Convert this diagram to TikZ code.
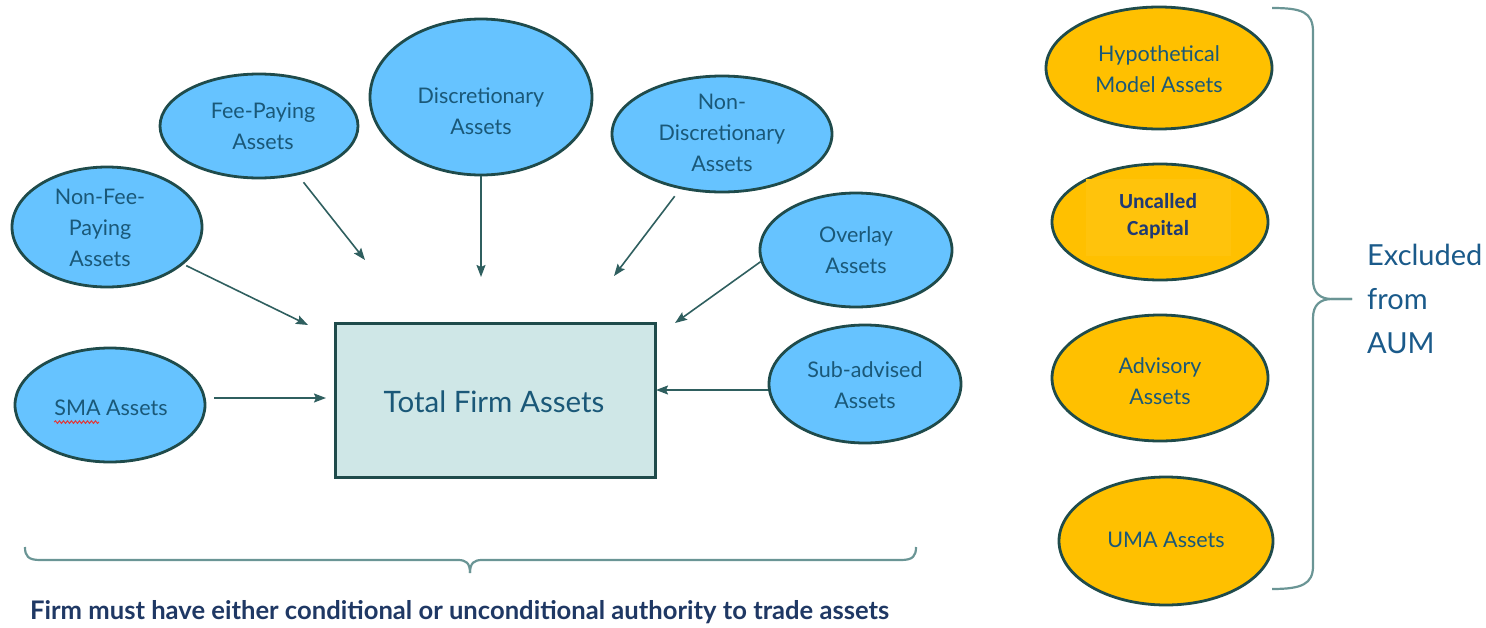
\documentclass[tikz,border=0pt]{standalone}
\usepackage{fontspec}
\setmainfont{Lato}
\newfontfamily\calb{Carlito}
\usetikzlibrary{arrows.meta,decorations.pathmorphing,calc,shapes.geometric}
\definecolor{bluefill}{HTML}{66C3FF}
\definecolor{orfill}{HTML}{FFC000}
\definecolor{orfill2}{HTML}{FFC30C}
\definecolor{boxfill}{HTML}{CFE7E7}
\definecolor{edgecol}{HTML}{1F4B4B}
\definecolor{arrcol}{HTML}{2F5F5F}
\definecolor{lblcol}{HTML}{1A5878}
\definecolor{exccol}{HTML}{1A5A8A}
\definecolor{navy}{HTML}{1F3A74}
\definecolor{botcol}{HTML}{1F3864}
\definecolor{bracecol}{HTML}{6A9595}
\definecolor{squig}{HTML}{E03A3A}
\tikzset{
  bell/.style={ellipse, draw=edgecol, line width=2.8pt, fill=bluefill, inner sep=0pt},
  oell/.style={ellipse, draw=edgecol, line width=2.8pt, fill=orfill, inner sep=0pt},
  lbl/.style={text=lblcol, align=center, inner sep=0pt, font=\fontsize{21.5}{31}\selectfont},
  conn/.style={draw=arrcol, line width=1.6pt, -{Stealth[length=12pt,width=9pt,inset=2pt]}},
  bracestyle/.style={draw=bracecol, line width=2.2pt, line join=round},
}
\begin{document}
\begin{tikzpicture}[x=1pt,y=-1pt]
\useasboundingbox (0,0) rectangle (1486,627);
% blue ellipses
\node[bell, minimum width=198pt, minimum height=104pt] (fee) at (259,126) {};
\node[bell, minimum width=222pt, minimum height=156pt] (disc) at (481,97) {};
\node[bell, minimum width=220pt, minimum height=116pt] (ndisc) at (722,134) {};
\node[bell, minimum width=190pt, minimum height=120pt] (nfee) at (107,227) {};
\node[bell, minimum width=192pt, minimum height=114pt] (ovl) at (856,250) {};
\node[bell, minimum width=190pt, minimum height=114pt] (sma) at (110,405) {};
\node[bell, minimum width=192pt, minimum height=118pt] (sub) at (865,384) {};
% box
\node[draw=edgecol, line width=3pt, fill=boxfill, minimum width=320pt, minimum height=154pt, inner sep=0pt] (tfa) at (495,400) {};
\node[text=lblcol, inner sep=0pt, font=\fontsize{29.5}{34}\selectfont] (tfat) at (494,402) {Total Firm Assets};
% labels
\node[lbl] (feet) at (263,126) {Fee-Paying\\Assets};
\node[lbl] (disct) at (481,111) {Discretionary\\Assets};
\node[lbl] (ndisct) at (722,133) {Non-\\Discretionary\\Assets};
\node[lbl] (nfeet) at (100,228) {Non-Fee-\\Paying\\Assets};
\node[lbl] (ovlt) at (856,250) {Overlay\\Assets};
\node[lbl] (smat) at (111,408) {SMA Assets};
\node[lbl] (subt) at (865,385) {Sub-advised\\Assets};
\draw[squig, line width=1pt, decorate, decoration={snake, amplitude=1.3pt, segment length=4pt}] ($(smat.south west)+(0,6)$) -- ++(45,0);
% connectors
\coordinate (tA) at (308,325);
\coordinate (tB) at (365,260);
\coordinate (tC) at (481,277);
\coordinate (tD) at (614,276);
\coordinate (tE) at (675,323);
\coordinate (tF) at (326,398);
\coordinate (tG) at (656,390);
\draw[conn, shorten <=3pt] (nfee) -- (tA);
\draw[conn, shorten <=9pt] (fee) -- (tB);
\draw[conn] (disc) -- (tC);
\draw[conn, shorten <=9pt] (ndisc) -- (tD);
\draw[conn] (ovl.187) -- (tE);
\draw[conn, shorten <=8pt] (sma.east |- tF) -- (tF);
\draw[conn] (sub.west |- tG) -- (tG);
% orange ellipses
\node[oell, minimum width=226pt, minimum height=122pt] (hyp) at (1159,68) {};
\node[oell, minimum width=216pt, minimum height=116pt] (unc) at (1160,222) {};
\fill[orfill2] (1086,179) rectangle (1231,256);
\node[oell, minimum width=216pt, minimum height=126pt] (adv) at (1160,378) {};
\node[oell, minimum width=214pt, minimum height=128pt] (uma) at (1166,541) {};
\node[lbl] (hypt) at (1159,69) {Hypothetical\\Model Assets};
\node[text=navy, align=center, inner sep=0pt, font=\calb\bfseries\fontsize{21.5}{27}\selectfont] (unct) at (1158,216) {Uncalled\\Capital};
\node[lbl] (advt) at (1160,381) {Advisory\\Assets};
\node[lbl] (umat) at (1166,540) {UMA Assets};
% right brace
\coordinate (rb1) at (1272,8);
\coordinate (rbt) at (1352,299);
\coordinate (rb2) at (1272,589);
\draw[bracestyle] (rb1) .. controls (1302,8) and (1313,12) .. (1313,32) -- (1313,280)
  .. controls (1313,293) and (1320,299) .. (1332,299) -- (rbt);
\draw[bracestyle] (rbt) -- (1332,299) .. controls (1320,299) and (1313,305) .. (1313,318)
  -- (1313,566) .. controls (1313,584) and (1302,589) .. (rb2);
\node[text=exccol, anchor=west, align=left, inner sep=0pt, font=\fontsize{29}{44}\selectfont] (exc) at (1367,299) {Excluded\\from\\AUM};
% bottom brace
\coordinate (bb1) at (25,547);
\coordinate (bbt) at (470,573);
\coordinate (bb2) at (916,547);
\draw[bracestyle] (bb1) .. controls (25,556) and (28,560) .. (40,560) -- (458,560)
  .. controls (466,560) and (470,563) .. (bbt);
\draw[bracestyle] (bbt) .. controls (470,563) and (474,560) .. (482,560) -- (901,560)
  .. controls (913,560) and (916,556) .. (bb2);
\node[text=botcol, anchor=west, inner sep=0pt, font=\bfseries\fontsize{25.6}{30}\selectfont] (bot) at (30,612) {Firm must have either conditional or unconditional authority to trade assets};
\end{tikzpicture}
\end{document}
